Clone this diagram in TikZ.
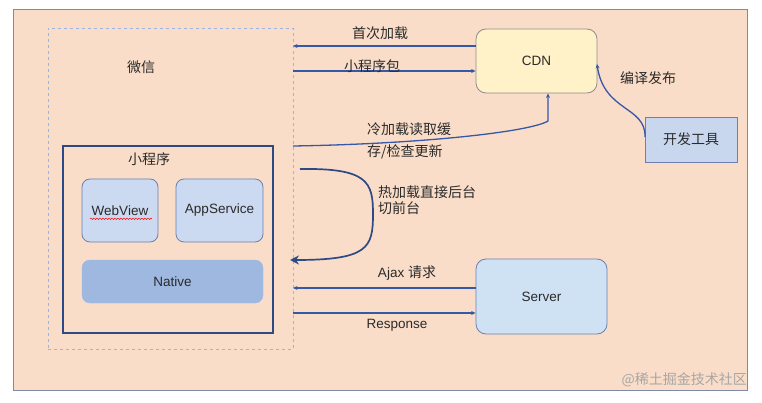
\documentclass[tikz,border=0pt]{standalone}
\usepackage{fontspec}
\setmainfont{Liberation Sans}
\newfontfamily\cjk{Noto Sans CJK SC}
\usetikzlibrary{arrows.meta,decorations.pathmorphing}
\definecolor{bgc}{HTML}{FADDC8}
\definecolor{outerb}{HTML}{7F8AA8}
\definecolor{dashc}{HTML}{9FB4DC}
\definecolor{xcxb}{HTML}{2E4A86}
\definecolor{boxf}{HTML}{CBDAF1}
\definecolor{boxb}{HTML}{6D7FB0}
\definecolor{natf}{HTML}{9FB8E0}
\definecolor{cdnf}{HTML}{FFF1C8}
\definecolor{cdnb}{HTML}{8C8C8C}
\definecolor{devf}{HTML}{C8D7EE}
\definecolor{servf}{HTML}{CFE2F4}
\definecolor{arrc}{HTML}{3558A8}
\definecolor{txtc}{HTML}{2A2A2A}
\begin{document}
\begin{tikzpicture}[x=1pt,y=-1pt,
  every node/.style={text=txtc,font=\fontsize{13.5}{16}\selectfont},
  zh/.style={font=\cjk\fontsize{14}{17}\selectfont},
  rbox/.style={draw=boxb,fill=boxf,rounded corners=8pt,line width=0.8pt,inner sep=0pt},
  conn/.style={draw=arrc,line width=1.3pt,-{Stealth[length=4.5pt,width=4pt]}},
  lbl/.style={inner sep=0pt}]
\useasboundingbox (0,0) rectangle (762,403);
\fill[white] (0,0) rectangle (762,403);
% outer background
\draw[outerb,fill=bgc,line width=0.6pt] (13,9) rectangle (747,390);
% WeChat dashed box
\node[draw=dashc,dashed,line width=0.8pt,minimum width=245pt,minimum height=321pt,inner sep=0pt] (wx) at (170.5,188.5) {};
\node[lbl,zh] (wxl) at (141,67) {微信};
% mini program box
\node[draw=xcxb,line width=1.4pt,minimum width=210pt,minimum height=187pt,inner sep=0pt] (xcx) at (168,239.5) {};
\node[lbl,zh] (xcxl) at (149,159) {小程序};
\node[rbox,minimum width=76pt,minimum height=63pt] (wv) at (120,210.5) {WebView};
\draw[red,line width=0.5pt,decorate,decoration={snake,amplitude=0.7pt,segment length=3pt}] (90,218.8) -- (152,218.8);
\node[rbox,minimum width=87pt,minimum height=63pt] (as) at (219.5,210.5) {AppService};
\node[fill=natf,draw=natf,rounded corners=8pt,minimum width=181pt,minimum height=43pt,inner sep=0pt] (nat) at (172.5,281.5) {Native};
% CDN
\node[draw=cdnb,fill=cdnf,rounded corners=10pt,line width=0.8pt,minimum width=121pt,minimum height=64pt,inner sep=0pt] (cdn) at (536.5,61) {CDN};
% dev tool
\node[draw=boxb,fill=devf,line width=0.8pt,minimum width=92pt,minimum height=45pt,inner sep=0pt,zh] (dev) at (691,139.5) {开发工具};
% server
\node[draw=boxb,fill=servf,rounded corners=10pt,line width=0.8pt,minimum width=131pt,minimum height=75pt,inner sep=0pt] (srv) at (541.5,296.5) {Server};
% coordinates on the WeChat box edge
\coordinate (p1) at (293,46);
\coordinate (p2) at (293,71);
\coordinate (p3) at (293,146);
\coordinate (c3) at (548,121);
\coordinate (h1) at (300,169);
\coordinate (h2) at (290,260);
\coordinate (p4) at (293,288);
\coordinate (p5) at (293,313);
\coordinate (d1) at (645,137);
\coordinate (d2) at (597,64);
% connectors
\draw[conn] (cdn.west |- p1) -- (p1);
\draw[conn] (p2) -- (cdn.west |- p2);
\draw[conn] (p3) .. controls (420,144) and (530,132) .. (c3) -- (c3 |- cdn.south);
\draw[conn] (d1) .. controls (646,106) and (604,112) .. (d2);
\draw[draw=xcxb,line width=1.7pt,-{Stealth[length=9pt,width=9pt,inset=3pt]}] (h1) .. controls (368,168) and (373,182) .. (373,214) .. controls (373,248) and (368,260) .. (h2);
\draw[conn] (srv.west |- p4) -- (p4);
\draw[conn] (p5) -- (srv.west |- p5);
% labels
\node[lbl,zh] (l1) at (380,33) {首次加载};
\node[lbl,zh] (l2) at (372,66) {小程序包};
\node[lbl,zh,anchor=west] (l3a) at (367,129) {冷加载读取缓};
\node[lbl,zh,anchor=west] (l3b) at (367,152) {存/检查更新};
\node[lbl,zh] (l4) at (648,78) {编译发布};
\node[lbl,zh,anchor=west] (l5a) at (378,192) {热加载直接后台};
\node[lbl,zh,anchor=west] (l5b) at (378,208) {切前台};
\node[lbl] (l6) at (407,273) {Ajax {\cjk\fontsize{14}{17}\selectfont 请求}};
\node[lbl] (l7) at (397,325) {Response};
\node[lbl,anchor=east,text=black!35,font=\cjk\fontsize{14}{16}\selectfont] (wm) at (747,380) {@稀土掘金技术社区};
\end{tikzpicture}
\end{document}
